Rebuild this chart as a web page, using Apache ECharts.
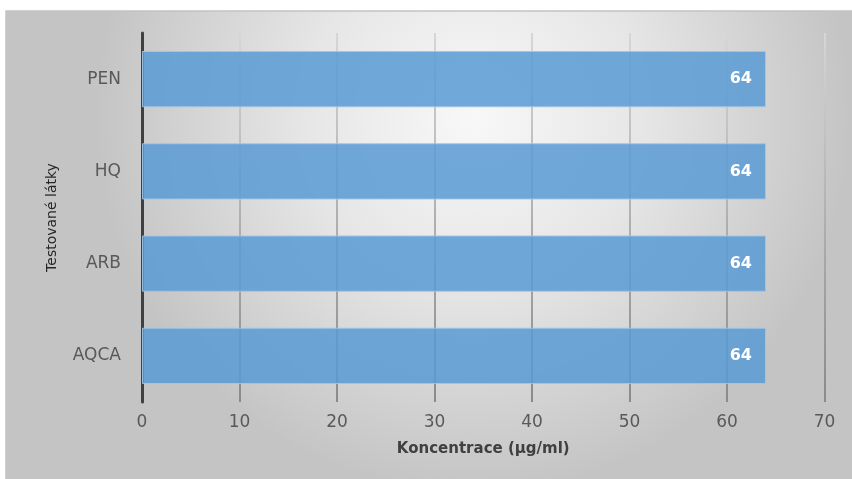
<!DOCTYPE html>
<html>
<head>
<meta charset="utf-8">
<style>
  html, body { margin: 0; padding: 0; background: #ffffff; }
  #chart { width: 852px; height: 479px; }
</style>
<script src="https://cdn.jsdelivr.net/npm/echarts@6/dist/echarts.min.js"></script>
</head>
<body>
<div id="chart"></div>
<script>
// Tested substances (bottom to top) and their concentration
const categories = ['AQCA', 'ARB', 'HQ', 'PEN'];
const concentrations = [64, 64, 64, 64];
const xTicks = { min: 0, max: 70, step: 10 };
const xAxisTitle = 'Koncentrace (µg/ml)';
const yAxisTitle = 'Testované látky';

const chart = echarts.init(document.getElementById('chart'), null, { renderer: 'canvas' });
const font = '"DejaVu Sans", "Noto Sans", sans-serif';

chart.setOption({
  animation: false,
  graphic: [{
    type: 'rect',
    z: -10,
    silent: true,
    shape: { x: 6, y: 11, width: 850, height: 472 },
    style: {
      fill: new echarts.graphic.RadialGradient(0.55, 0.22, 0.8, [
        { offset: 0, color: '#f8f8f8' },
        { offset: 0.45, color: '#e6e6e6' },
        { offset: 1, color: '#c4c4c4' }
      ]),
      stroke: '#c2c2c2',
      lineWidth: 1.5
    }
  }],
  grid: { left: 142, right: 27.5, top: 33, bottom: 77 },
  xAxis: {
    type: 'value',
    min: xTicks.min,
    max: xTicks.max,
    interval: xTicks.step,
    name: xAxisTitle,
    nameLocation: 'middle',
    nameGap: 40,
    nameTextStyle: { fontFamily: font, fontSize: 15, fontWeight: 'bold', color: '#404040' },
    axisLine: { show: false },
    axisTick: { show: false },
    axisLabel: { fontFamily: font, fontSize: 17, color: '#595959', margin: 12 },
    splitLine: {
      show: true,
      lineStyle: {
        width: 2,
        color: new echarts.graphic.LinearGradient(0, 33, 0, 402, [
          { offset: 0, color: '#d6d6d6' },
          { offset: 1, color: '#8a8a8a' }
        ], true)
      }
    }
  },
  yAxis: {
    type: 'category',
    data: categories,
    name: yAxisTitle,
    nameLocation: 'middle',
    nameGap: 83,
    nameRotate: 90,
    nameTextStyle: { fontFamily: font, fontSize: 14, color: '#262626' },
    axisLine: { show: true, lineStyle: { color: '#404040', width: 3 } },
    axisTick: { show: false },
    axisLabel: { fontFamily: font, fontSize: 17, color: '#595959', margin: 21 },
    splitLine: { show: false }
  },
  series: [{
    type: 'bar',
    data: concentrations,
    barCategoryGap: '39%',
    itemStyle: {
      color: 'rgba(91,155,213,0.86)',
      borderColor: 'rgba(160,198,232,0.9)',
      borderWidth: 1
    },
    label: {
      show: true,
      position: 'insideRight',
      distance: 14,
      fontFamily: font,
      fontSize: 16,
      fontWeight: 'bold',
      color: '#ffffff'
    }
  }]
});
</script>
</body>
</html>
